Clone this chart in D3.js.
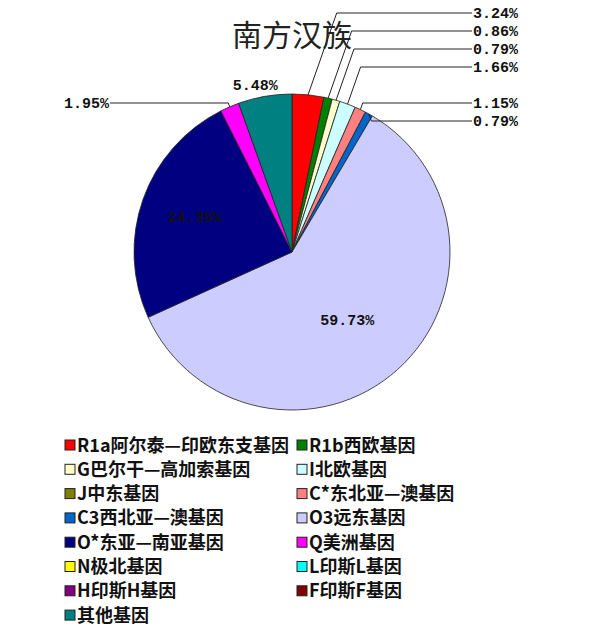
<!DOCTYPE html>
<html>
<head>
<meta charset="utf-8">
<script src="https://cdn.jsdelivr.net/npm/d3@7"></script>
<style>
  html, body { margin: 0; padding: 0; background: #fff; }
  svg { display: block; }
</style>
</head>
<body>
<svg id="chart" width="597" height="638"></svg>
<script>
// data, in slice / legend order
const categories = [
  'R1a阿尔泰—印欧东支基因', 'R1b西欧基因', 'G巴尔干—高加索基因', 'I北欧基因',
  'J中东基因', 'C*东北亚—澳基因', 'C3西北亚—澳基因', 'O3远东基因',
  'O*东亚—南亚基因', 'Q美洲基因', 'N极北基因', 'L印斯L基因',
  'H印斯H基因', 'F印斯F基因', '其他基因'
];
const values = [3.24, 0.86, 0.79, 1.66, 0, 1.15, 0.79, 59.73, 24.35, 1.95, 0, 0, 0, 0, 5.48];
const colors = [
  '#FF0000', '#008000', '#FFFFCC', '#CCFFFF', '#808000', '#FF8080', '#0066CC', '#CCCCFF',
  '#000080', '#FF00FF', '#FFFF00', '#00FFFF', '#800080', '#800000', '#008080'
];
// where each percentage label goes: inside, outside end, or called out on a row at the side
const labelPlace = ['right', 'right', 'right', 'right', 'none', 'right', 'right', 'inside',
  'inside', 'left', 'none', 'none', 'none', 'none', 'outside'];
const calloutRows = [0, 1, 2, 3, null, 5, 6, null, null, 5, null, null, null, null, null];

const title = '南方汉族';

const width = 597, height = 638;
const cx = 292, cy = 252, radius = 158;
const svg = d3.select('#chart');

svg.append('text')
  .attr('x', cx)
  .attr('y', 46)
  .attr('text-anchor', 'middle')
  .style('font-family', '"Noto Sans CJK SC", sans-serif')
  .style('font-size', '30px')
  .style('fill', '#222')
  .text(title);

const items = categories.map((name, i) => ({
  name, value: values[i], color: colors[i], place: labelPlace[i], row: calloutRows[i]
}));

const pie = d3.pie().sort(null).value(d => d.value);
const arcs = pie(items);
const arc = d3.arc().innerRadius(0).outerRadius(radius);

const g = svg.append('g').attr('transform', `translate(${cx},${cy})`);

g.selectAll('path.slice')
  .data(arcs.filter(a => a.data.value > 0))
  .enter().append('path')
  .attr('class', 'slice')
  .attr('d', arc)
  .style('fill', d => d.data.color)
  .style('stroke', '#222')
  .style('stroke-width', 0.8);

const fmt = v => v.toFixed(2) + '%';
const labelFont = '"Liberation Mono", "DejaVu Sans Mono", monospace';
const midAngle = d => (d.startAngle + d.endAngle) / 2;
const polar = (a, r) => [Math.sin(a) * r, -Math.cos(a) * r];

// inside labels
g.selectAll('text.inside')
  .data(arcs.filter(a => a.data.place === 'inside'))
  .enter().append('text')
  .attr('class', 'inside')
  .attr('x', d => polar(midAngle(d), radius * 0.6)[0] - 8)
  .attr('y', d => polar(midAngle(d), radius * 0.6)[1] + 2)
  .attr('text-anchor', 'middle')
  .style('font-family', labelFont)
  .style('font-weight', 'bold')
  .style('font-size', '15px')
  .style('fill', '#111')
  .text(d => fmt(d.data.value));

// outside-end label (no leader)
g.selectAll('text.outside')
  .data(arcs.filter(a => a.data.place === 'outside'))
  .enter().append('text')
  .attr('class', 'outside')
  .attr('x', d => polar(midAngle(d), radius + 10)[0] - 8)
  .attr('y', d => polar(midAngle(d), radius + 10)[1] + 4)
  .attr('text-anchor', 'middle')
  .style('font-family', labelFont)
  .style('font-weight', 'bold')
  .style('font-size', '15px')
  .style('fill', '#111')
  .text(d => fmt(d.data.value));

// called-out labels with leader lines
const rowStep = 18, rowTop = 13 - cy;
const callouts = arcs.filter(a => a.data.place === 'right' || a.data.place === 'left');

callouts.forEach(d => {
  const [ex, ey] = polar(midAngle(d), radius);
  const ly = rowTop + d.data.row * rowStep;
  const right = d.data.place === 'right';
  const elbowX = ex + (right ? 1 : -1) * Math.abs(ey - ly) * 0.35;
  const endX = right ? 180 : -182;

  g.append('polyline')
    .attr('points', [[ex, ey], [elbowX, ly], [endX, ly]].map(p => p.join(',')).join(' '))
    .style('fill', 'none')
    .style('stroke', '#222')
    .style('stroke-width', 1);

  g.append('text')
    .attr('x', right ? endX + 1 : endX - 1)
    .attr('y', ly + 5)
    .attr('text-anchor', right ? 'start' : 'end')
    .style('font-family', labelFont)
    .style('font-weight', 'bold')
    .style('font-size', '15px')
    .style('fill', '#111')
    .text(fmt(d.data.value));
});

// legend, two columns, row-major
const legendCols = [65, 297];
const rowY = d3.scaleLinear().domain([0, 1]).range([445, 469.3]);

const legend = svg.append('g').attr('class', 'legend');
const entries = legend.selectAll('g.entry')
  .data(items)
  .enter().append('g')
  .attr('class', 'entry')
  .attr('transform', (d, i) => `translate(${legendCols[i % 2]},${rowY(Math.floor(i / 2))})`);

entries.append('rect')
  .attr('x', 0)
  .attr('y', -5)
  .attr('width', 10)
  .attr('height', 10)
  .style('fill', d => d.color)
  .style('stroke', '#222')
  .style('stroke-width', 1);

entries.append('text')
  .attr('x', 12)
  .attr('y', 6.5)
  .style('font-family', '"Noto Sans CJK SC", sans-serif')
  .style('font-size', '18px')
  .style('font-weight', 'bold')
  .style('fill', '#111')
  .text(d => d.name);
</script>
</body>
</html>
